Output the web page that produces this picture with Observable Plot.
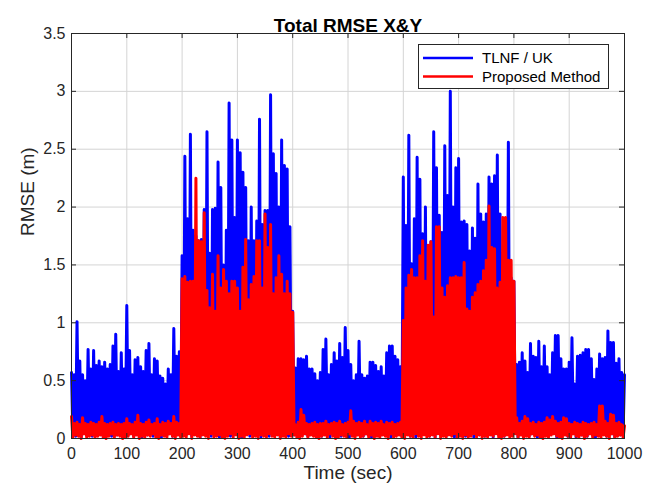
<!DOCTYPE html>
<html><head><meta charset="utf-8">
<script src="https://cdn.jsdelivr.net/npm/d3@7"></script>
<script src="https://cdn.jsdelivr.net/npm/@observablehq/plot@0.6"></script>
<style>body{margin:0;background:#fff;font-family:"Liberation Sans",Arial,sans-serif}</style>
</head><body><div id="chart"></div>
<script>
// Peaks every 5 s (t = 0, 5, ..., 1000) and troughs in between (t = 2.5, 7.5, ...)
const blueHi = [
0.57,0.55,1.01,0.67,0.55,0.5,0.77,0.6,0.76,0.63,
0.67,0.62,0.66,0.6,0.64,0.8,0.9,0.58,0.74,0.6,
1.15,0.76,0.55,0.68,0.7,0.62,0.58,0.76,0.82,0.55,
0.69,0.67,0.54,0.52,0.47,0.6,0.55,0.95,0.71,0.75,
1.58,
2.44,1.9,2.63,1.8,1.75,1.71,1.72,1.98,2.65,1.6,
1.98,1.99,2.39,2.17,1.5,1.8,2.9,2.58,1.91,2.58,
2.47,2.3,2.17,1.71,2.0,1.71,1.88,2.76,1.85,1.97,
1.97,2.97,2.46,2.29,2.0,2.58,2.36,2.33,1.83,1.1,
0.61,0.69,0.69,0.68,0.71,0.6,0.6,0.56,0.5,0.57,
0.77,0.86,0.55,0.64,0.74,0.67,0.82,0.7,0.96,0.76,
0.64,0.5,0.55,0.84,0.55,0.52,0.54,0.66,0.66,0.63,
0.58,0.62,0.54,0.74,0.8,0.8,0.71,0.68,0.62,2.26,
1.84,2.62,1.51,1.9,2.43,2.24,1.77,2.0,1.6,1.7,
2.65,2.34,1.93,1.78,2.53,2.1,3.0,2.0,2.34,2.42,
1.87,1.88,1.85,1.62,1.82,1.73,2.2,1.94,1.87,1.94,
2.26,2.2,2.27,2.45,1.94,1.6,1.9,2.56,1.39,1.36,
0.64,0.66,0.74,0.67,0.57,0.82,0.71,0.7,0.84,0.62,
0.8,0.62,0.55,0.74,0.89,0.89,0.69,0.6,0.6,0.66,
0.87,0.47,0.71,0.72,0.74,0.77,0.77,0.69,0.51,0.6,
0.73,0.69,0.7,0.93,0.83,0.83,0.65,0.69,0.57,0.55
];
const blueLo = [
.04,.02,.07,.01,.05,.03,.08,.02,.06,.03,.05,.01,.04,.09,.02,.06,.03,.05,.01,.07,
.03,.06,.02,.04,.08,.01,.05,.03,.07,.02,.06,.04,.01,.05,.03,.09,.02,.06,.04,.02,
.05,.03,.08,.02,.06,.04,.01,.07,.03,.05,.02,.09,.04,.01,.06,.03,.07,.02,.05,.04,
.08,.01,.03,.06,.02,.05,.04,.07,.01,.03,.06,.02,.08,.04,.05,.01,.07,.03,.02,.06,
.03,.05,.01,.07,.04,.02,.06,.09,.03,.05,.02,.04,.08,.01,.06,.03,.05,.02,.07,.04,
.01,.06,.03,.05,.08,.02,.04,.07,.01,.03,.05,.02,.06,.04,.09,.01,.03,.07,.05,.02,
.04,.07,.02,.05,.01,.06,.03,.08,.04,.02,.06,.01,.05,.03,.07,.02,.04,.09,.01,.05,
.03,.06,.02,.08,.04,.01,.05,.03,.06,.02,.07,.04,.01,.05,.03,.06,.02,.08,.04,.03,
.05,.01,.06,.03,.07,.02,.04,.08,.01,.05,.03,.06,.02,.04,.09,.01,.05,.03,.07,.02,
.04,.06,.01,.05,.03,.08,.02,.06,.04,.01,.07,.03,.05,.02,.06,.04,.01,.08,.03,.05
];
const redHi = [
0.19,0.13,0.14,0.12,0.18,0.13,0.12,0.14,0.13,0.12,
0.14,0.19,0.13,0.12,0.13,0.14,0.12,0.13,0.12,0.13,
0.17,0.13,0.12,0.14,0.2,0.13,0.12,0.14,0.16,0.12,
0.13,0.17,0.12,0.14,0.13,0.15,0.13,0.19,0.14,0.13,
1.38,
1.4,1.35,1.36,1.36,2.25,1.71,1.7,1.95,1.28,1.13,
1.42,1.1,1.58,1.3,1.46,1.36,1.25,1.36,1.36,1.3,
1.1,1.48,1.72,1.2,1.33,1.4,1.71,1.71,1.3,1.94,
1.65,1.85,1.25,1.39,1.58,1.42,1.25,1.36,1.25,1.09,
0.12,0.14,0.25,0.2,0.13,0.12,0.13,0.14,0.12,0.13,
0.13,0.15,0.12,0.13,0.14,0.13,0.15,0.12,0.13,0.14,
0.24,0.15,0.13,0.14,0.13,0.15,0.12,0.15,0.13,0.14,
0.13,0.15,0.12,0.14,0.13,0.14,0.12,0.13,0.14,1.02,
1.3,1.41,1.46,1.39,1.39,1.58,1.71,1.36,1.67,1.7,
1.05,1.83,1.83,1.3,1.22,1.32,1.39,1.39,1.4,1.39,
1.39,1.52,1.12,1.1,1.22,1.26,1.33,1.36,1.45,1.54,
2.01,1.65,1.64,1.3,1.35,1.91,1.91,1.54,1.54,1.36,
0.18,0.13,0.15,0.19,0.17,0.13,0.14,0.12,0.14,0.13,
0.14,0.18,0.16,0.19,0.15,0.13,0.14,0.18,0.17,0.13,
0.12,0.14,0.13,0.12,0.14,0.13,0.12,0.13,0.14,0.12,
0.28,0.28,0.15,0.13,0.21,0.2,0.13,0.14,0.12,0.11
];
const redLo = [
.01,.03,.02,.00,.04,.01,.02,.03,.01,.02,.03,.01,.00,.02,.04,.01,.03,.02,.00,.01,
.02,.04,.01,.03,.00,.02,.01,.03,.02,.04,.01,.00,.03,.02,.01,.04,.02,.00,.03,.01,
.02,.01,.04,.00,.03,.02,.01,.03,.02,.00,.04,.01,.02,.03,.01,.00,.02,.04,.01,.03,
.00,.02,.01,.03,.04,.01,.02,.00,.03,.02,.01,.04,.02,.01,.03,.00,.02,.01,.04,.02,
.03,.01,.00,.02,.04,.01,.03,.02,.01,.00,.02,.03,.01,.04,.02,.00,.01,.03,.02,.01,
.04,.02,.00,.03,.01,.02,.04,.01,.03,.00,.02,.01,.03,.02,.00,.04,.01,.02,.03,.01,
.00,.03,.02,.01,.04,.02,.00,.03,.01,.02,.03,.01,.04,.00,.02,.01,.03,.02,.04,.01,
.02,.00,.03,.01,.02,.04,.01,.03,.00,.02,.01,.03,.02,.04,.01,.00,.02,.03,.01,.02,
.04,.01,.03,.00,.02,.01,.04,.02,.03,.01,.00,.02,.01,.03,.04,.02,.01,.00,.03,.02,
.01,.04,.02,.01,.03,.00,.02,.04,.01,.03,.02,.01,.03,.02,.00,.04,.01,.02,.03,.01
];
const xTicks = [0,100,200,300,400,500,600,700,800,900,1000];
const yTicks = [0,0.5,1,1.5,2,2.5,3,3.5];
const seriesNames = ["TLNF / UK", "Proposed Method"];
const seriesColors = ["#0000ff", "#ff0000"];
const titleText = "Total RMSE X&Y";
const xLabel = "Time (sec)";
const yLabel = "RMSE (m)";

function build(hi, lo) {
  const out = [];
  for (let i = 0; i < hi.length; i++) {
    out.push({t: i * 5, v: hi[i]});
    if (i < lo.length) out.push({t: i * 5 + 2.5, v: lo[i]});
  }
  return out;
}
const blueData = build(blueHi, blueLo);
const redData = build(redHi, redLo);

const W = 649, H = 487, ML = 71, MR = 25, MT = 33, MB = 49;
const FW = W - ML - MR, FH = H - MT - MB;
const ink = "#262626";
const font = "'Liberation Sans', Arial, sans-serif";

const chart = Plot.plot({
  width: W, height: H,
  marginLeft: ML, marginRight: MR, marginTop: MT, marginBottom: MB,
  style: {fontFamily: font, background: "#fff", color: ink},
  x: {domain: [0, 1000]},
  y: {domain: [0, 3.5]},
  marks: [
    Plot.gridX(xTicks, {stroke: "#d4d4d4", strokeOpacity: 1}),
    Plot.gridY(yTicks, {stroke: "#d4d4d4", strokeOpacity: 1}),
    Plot.lineY(blueData, {x: "t", y: "v", stroke: seriesColors[0], strokeWidth: 3, strokeLinejoin: "round"}),
    Plot.lineY(redData, {x: "t", y: "v", stroke: seriesColors[1], strokeWidth: 3, strokeLinejoin: "round"}),
    Plot.frame({stroke: ink, strokeWidth: 1}),
    Plot.tickX(xTicks, {x: d => d, stroke: ink, insetTop: FH - 5}),
    Plot.tickX(xTicks, {x: d => d, stroke: ink, insetBottom: FH - 5}),
    Plot.tickY(yTicks, {y: d => d, stroke: ink, insetRight: FW - 5}),
    Plot.tickY(yTicks, {y: d => d, stroke: ink, insetLeft: FW - 5}),
    Plot.axisX(xTicks, {tickSize: 0, tickPadding: 9, fontSize: 16, label: null, tickFormat: d => String(d), fill: ink}),
    Plot.axisY(yTicks, {tickSize: 0, tickPadding: 6, fontSize: 16, label: null, tickFormat: d => String(d), fill: ink}),
    Plot.text([titleText], {text: d => d, frameAnchor: "top", dy: -15, fontSize: 19, fontWeight: "bold", fill: "#000"}),
    Plot.text([xLabel], {text: d => d, frameAnchor: "bottom", dy: 40, fontSize: 19, fill: ink}),
    Plot.text([yLabel], {text: d => d, frameAnchor: "left", dx: -44, rotate: -90, fontSize: 19, fill: ink})
  ]
});
document.getElementById("chart").appendChild(chart);

// Legend box (inside the plot, top right)
const svg = d3.select(chart);
const lg = svg.append("g").attr("font-family", font).attr("font-size", 15).attr("text-anchor", "start");
lg.append("rect").attr("x", 418.5).attr("y", 44.5).attr("width", 190).attr("height", 44)
  .attr("fill", "#fff").attr("stroke", ink).attr("stroke-width", 1);
seriesNames.forEach((name, i) => {
  const cy = 58 + i * 18.5;
  lg.append("line").attr("x1", 423).attr("x2", 473).attr("y1", cy).attr("y2", cy)
    .attr("stroke", seriesColors[i]).attr("stroke-width", 2.7);
  lg.append("text").attr("x", 482).attr("y", cy + 5.2).attr("fill", "#000")
    .attr("text-anchor", "start").text(name);
});
</script>
</body></html>
